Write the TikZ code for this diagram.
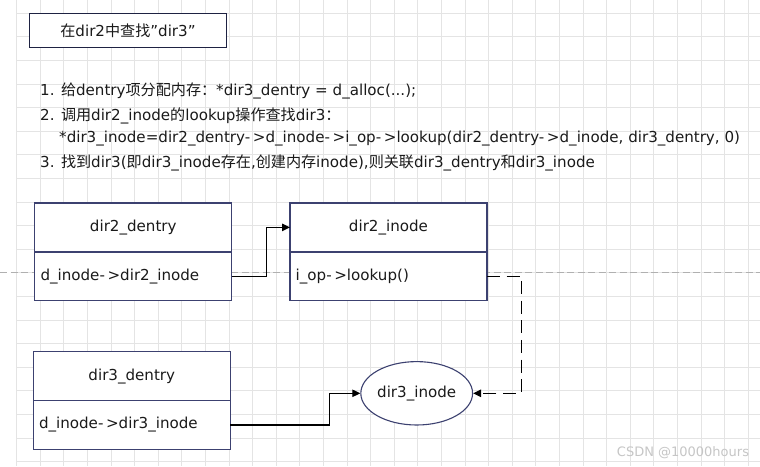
\documentclass[tikz,border=0pt]{standalone}
\usepackage{fontspec}
\setmainfont{DejaVu Sans}
\newfontfamily\cjk{Noto Sans CJK SC}[Scale=1.0]
\usetikzlibrary{arrows.meta,shapes.geometric}
\definecolor{gridc}{HTML}{E4E4E4}
\definecolor{boxc}{HTML}{3C4170}
\definecolor{titlec}{HTML}{1E2242}
\definecolor{txtc}{HTML}{1A1A1A}
\definecolor{pagec}{HTML}{B0B0B0}
\definecolor{wmc}{HTML}{C6C6C6}
\newcommand\myarr{-\kern2.6pt>}
\begin{document}
\begin{tikzpicture}[x=1pt,y=-1pt,
  every node/.style={font=\fontsize{15.1}{17}\selectfont, text=txtc},
  sec/.style={draw=boxc, line width=1.2pt, fill=white, rectangle,
    minimum width=197pt, inner sep=0pt, outer sep=0pt},
  secl/.style={sec, text width=185.6pt, inner xsep=5.7pt, align=left},
  txt/.style={anchor=west, inner sep=0pt},
  conn/.style={line width=1.1pt, draw=black, -{Triangle[length=8pt,width=7.5pt]}},
  dconn/.style={conn, dash pattern=on 13pt off 6.7pt}
]
\fill[white] (0,0) rectangle (760,466);
\useasboundingbox (0,0) rectangle (760,466);
% grid
\foreach \i in {0,...,31} \draw[gridc, line width=0.9pt] (16.7+23.6*\i,0) -- (16.7+23.6*\i,466);
\foreach \j in {0,...,19} \draw[gridc, line width=0.9pt] (16.7,13.3+23.6*\j) -- (760,13.3+23.6*\j);
\draw[pagec, line width=0.9pt, dash pattern=on 7pt off 3.5pt] (0,272.7) -- (760,272.7);

% title
\node[draw=titlec, line width=1.2pt, fill=white, minimum width=197.4pt, minimum height=34pt, inner sep=0pt] (title) at (128,30.3) {{\cjk 在}dir2{\cjk 中查找}\symbol{34}dir3\symbol{34}};

% text lines
\node[txt] (l1) at (40,90.5) {1. {\cjk 给}dentry{\cjk 项分配内存：}*dir3\_dentry = d\_alloc(...);};
\node[txt] (l2) at (40,115.5) {2. {\cjk 调用}dir2\_inode{\cjk 的}lookup{\cjk 操作查找}dir3{\cjk ：}};
\node[txt] (l3) at (59,139) {*dir3\_inode=dir2\_dentry\myarr d\_inode\myarr i\_op\myarr lookup(dir2\_dentry\myarr d\_inode, dir3\_dentry, 0)};
\node[txt] (l4) at (40,162.5) {3. {\cjk 找到}dir3({\cjk 即}dir3\_inode{\cjk 存在},{\cjk 创建内存}inode),{\cjk 则关联}dir3\_dentry{\cjk 和}dir3\_inode};

% boxes
\node[sec, minimum height=49pt] (d2top) at (133.3,227.4) {dir2\_dentry};
\node[secl, minimum height=48.5pt, anchor=north] (d2bot) at (d2top.south) {d\_inode\myarr dir2\_inode};
\node[sec, minimum height=49pt] (i2top) at (388.5,227.4) {dir2\_inode};
\node[secl, minimum height=48.5pt, anchor=north] (i2bot) at (i2top.south) {i\_op\myarr lookup()};
\node[sec, minimum height=49pt] (d3top) at (131.8,376.2) {dir3\_dentry};
\node[secl, minimum height=48.5pt, anchor=north] (d3bot) at (d3top.south) {d\_inode\myarr dir3\_inode};
\node[ellipse, draw=boxc, line width=1.1pt, fill=white, minimum width=103.4pt, minimum height=63.4pt, inner sep=0pt] (ell) at (416.7,393.3) {dir3\_inode};

% connectors
\draw[conn] (d2bot.east) -- ++(35,0) |- (i2top.west);
\draw[dconn] (i2bot.east) -- ++(34.7,0) |- (ell.east);
\draw[conn] (d3bot.east) -- ++(99,0) |- (ell.west);

% watermark
\node[font=\fontsize{13}{16}\selectfont, text=wmc, inner sep=0pt] (wm) at (683,452.7) {CSDN @10000hours};
\end{tikzpicture}
\end{document}
